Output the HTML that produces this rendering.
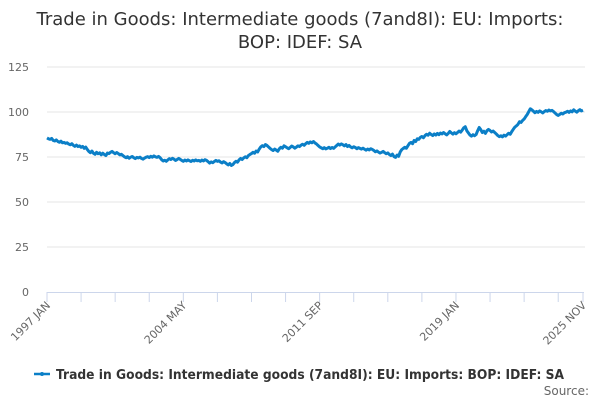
<!DOCTYPE html>
<html><head><meta charset="utf-8"><style>
body{margin:0;background:#fff;font-family:"Liberation Sans","DejaVu Sans",sans-serif}
svg{display:block}
</style></head><body>
<svg id="chart" width="600" height="400" xmlns="http://www.w3.org/2000/svg">
<text x="300" y="25" text-anchor="middle" font-size="18" fill="#333" font-family="DejaVu Sans, sans-serif">Trade in Goods: Intermediate goods (7and8I): EU: Imports:</text>
<text x="300" y="48" text-anchor="middle" font-size="18" fill="#333" font-family="DejaVu Sans, sans-serif">BOP: IDEF: SA</text>
<g id="grid"></g><g id="xaxis"></g><g id="series"></g>
<g>
<line x1="34" y1="374" x2="50" y2="374" stroke="#0b7fc7" stroke-width="2.5"/>
<circle cx="42" cy="374" r="2" fill="#0b7fc7"/>
<text x="56" y="379" font-size="13" font-weight="bold" fill="#333" font-family="DejaVu Sans, sans-serif" textLength="508" lengthAdjust="spacingAndGlyphs">Trade in Goods: Intermediate goods (7and8I): EU: Imports: BOP: IDEF: SA</text>
</g>
<text x="589" y="395" text-anchor="end" font-size="12" fill="#666" font-family="DejaVu Sans, sans-serif">Source:</text>
</svg>
<script>
const yTicks=[0,25,50,75,100,125];
const xLabels=["1997 JAN","2004 MAY","2011 SEP","2019 JAN","2025 NOV"];
const xLabelIdx=[0,88,176,264,346];
const values=[
85.6,85.1,84.8,85.3,84.2,83.9,84.5,83.6,83.2,83.8,82.9,83.1,
82.6,82.9,82.2,81.8,82.4,81.5,80.9,81.6,80.8,81.2,80.4,80.9,
79.8,80.5,79.2,78.1,77.4,78.3,77.1,76.5,77.6,76.8,77.3,76.2,
77.1,76.4,75.8,77.2,76.9,77.6,78.1,77.4,76.8,77.5,76.9,76.2,
76.5,75.8,75.1,74.6,75.2,74.3,74.9,75.3,74.6,74.1,74.8,74.5,
74.9,74.2,73.8,74.4,74.9,75.2,74.7,75.4,74.9,75.6,75.1,74.8,
75.3,74.6,73.5,72.8,73.2,72.6,73.4,74.1,73.6,74.3,73.8,73.1,
73.6,74.2,73.7,73.1,72.6,73.3,72.8,73.4,72.9,72.5,73.2,72.8,
73.4,72.9,73.1,72.6,73.3,72.8,73.5,73.1,72.4,71.6,72.3,71.8,
72.5,73.1,72.6,72.9,72.2,71.7,72.4,71.9,71.2,70.6,71.4,70.3,
70.8,71.9,72.6,72.1,73.4,74.2,73.6,74.5,75.1,74.6,75.8,76.4,
76.9,77.6,77.1,78.3,77.8,79.4,80.6,81.3,80.8,81.9,81.4,80.6,
79.8,79.1,78.6,79.4,78.8,78.2,79.6,80.4,79.9,81.2,80.7,80.1,
79.6,80.3,81.1,80.6,79.9,80.5,81.2,80.8,81.6,82.1,81.5,82.4,
83.1,82.6,83.4,82.9,83.6,82.8,82.2,81.4,80.6,80.1,79.6,80.2,
79.5,79.9,80.4,79.7,80.3,79.8,80.6,81.4,82.2,81.6,82.3,81.8,
81.2,81.9,80.8,81.4,80.6,80.1,80.7,80.3,79.6,80.2,79.8,79.4,
79.9,79.3,78.8,79.4,78.9,79.6,79.2,78.6,77.9,78.4,77.7,77.2,
77.6,78.1,77.4,76.8,77.3,76.4,75.8,76.6,75.2,74.8,76.1,75.4,
77.8,79.1,79.8,80.4,79.9,81.3,82.6,83.1,82.4,84.2,83.6,85.1,
84.8,85.9,86.4,85.7,86.9,87.6,87.1,88.2,87.5,86.9,87.8,87.2,
88.1,87.4,88.3,87.8,88.6,87.9,87.3,88.1,89.2,88.4,87.7,88.5,
87.9,88.6,89.4,88.8,89.9,91.2,91.8,89.6,88.4,87.2,86.6,87.4,
86.8,87.5,89.6,91.4,90.2,88.6,89.3,88.1,89.6,90.3,89.7,88.9,
89.4,88.6,87.8,86.9,86.3,86.8,86.2,87.1,86.6,87.4,88.2,87.6,
89.1,90.4,91.6,92.3,93.1,94.6,94.2,95.3,96.1,97.4,98.6,100.2,
101.8,101.2,100.4,99.6,100.3,99.8,100.6,100.1,99.5,100.2,100.8,100.4,
101.1,100.6,100.9,100.2,99.4,98.6,98.1,98.7,99.3,98.9,99.6,99.9,
100.4,99.8,100.6,100.1,101.2,100.5,99.9,100.7,101.3,100.6,101.0];
const NS="http://www.w3.org/2000/svg";
const X0=47,X1=583,Y0=292,Y1=67;
const n=values.length;
const xs=i=>X0+(X1-X0)*i/(n-1);
const ys=v=>Y0-(Y0-Y1)*v/125;
function mk(t,a,p){const e=document.createElementNS(NS,t);for(const k in a)e.setAttribute(k,a[k]);p.appendChild(e);return e;}
const grid=document.getElementById('grid');
yTicks.forEach(v=>{
 if(v>0){const l=mk('line',{x1:X0,x2:X1+2,y1:ys(v),y2:ys(v),stroke:'#e6e6e6'},grid);
 
 }
 const t=mk('text',{x:29,y:ys(v)+4,'text-anchor':'end','font-size':11,fill:'#666','font-family':'DejaVu Sans, sans-serif'},grid);
 
 
 t.textContent=v;
});
const xa=document.getElementById('xaxis');
const al=mk('line',{x1:X0,x2:X1+1,y1:Y0+0.5,y2:Y0+0.5,stroke:'#ccd6eb'},xa);


for(let i=0;i<n;i+=22){const tk=mk('line',{x1:xs(i),x2:xs(i),y1:Y0,y2:Y0+10,stroke:'#ccd6eb'},xa);
 
 }
const lt=mk('line',{x1:xs(n-1),x2:xs(n-1),y1:Y0,y2:Y0+10,stroke:'#ccd6eb'},xa);


xLabels.forEach((s,k)=>{const x=xs(xLabelIdx[k])+4,y=Y0+14;
 const t=mk('text',{x:x,y:y,'text-anchor':'end','font-size':11,fill:'#666','font-family':'DejaVu Sans, sans-serif',transform:`rotate(-45 ${x} ${y})`},xa);
 
 
 t.textContent=s;});
const sg=document.getElementById('series');
const d=values.map((v,i)=>(i?'L':'M')+xs(i).toFixed(2)+' '+ys(v).toFixed(2)).join(' ');
const p=mk('path',{d:d,fill:'none',stroke:'#0b7fc7','stroke-width':3,'stroke-linejoin':'round'},sg);


</script>
</body></html>
